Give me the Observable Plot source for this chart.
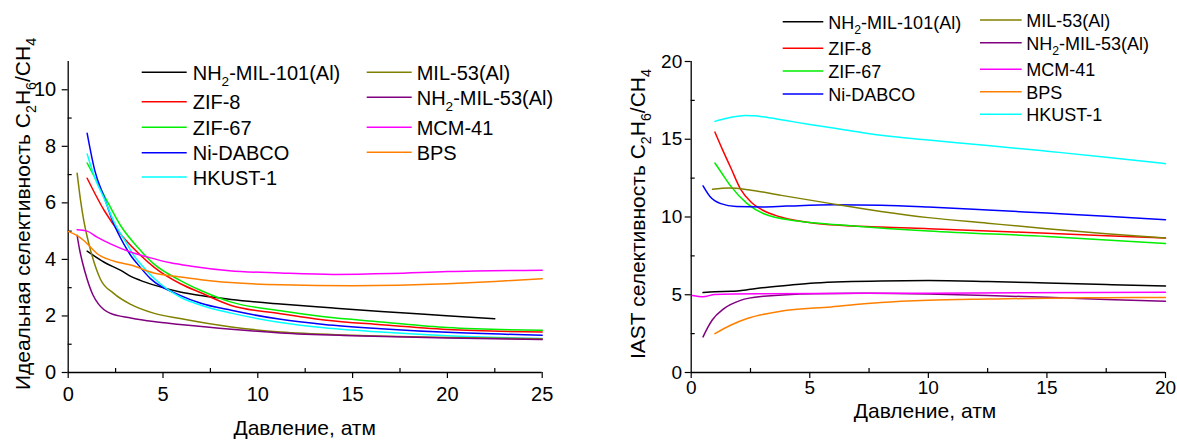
<!DOCTYPE html>
<html>
<head>
<meta charset="utf-8">
<script src="https://cdn.jsdelivr.net/npm/d3@7"></script>
<script src="https://cdn.jsdelivr.net/npm/@observablehq/plot@0.6"></script>
<style>
  html, body { margin: 0; padding: 0; background: #fff; }
  #wrap { position: relative; width: 1177px; height: 441px; overflow: hidden; font-family: "Liberation Sans", Arial, sans-serif; color: #000; }
  #wrap svg { position: absolute; top: 0; overflow: visible; }
</style>
</head>
<body>
<div id="wrap"></div>
<script>
// ---------- Data ----------
const seriesNames = ["NH2-MIL-101(Al)", "ZIF-8", "ZIF-67", "Ni-DABCO", "HKUST-1",
                     "MIL-53(Al)", "NH2-MIL-53(Al)", "MCM-41", "BPS"];
const seriesColors = ["#000000", "#ff0000", "#00ee00", "#0000ff", "#00ffff",
                      "#808000", "#800080", "#ff00ff", "#ff8000"];

// Left panel: ideal selectivity vs pressure (atm)
const L_NH2MIL101 = [[1,4.29],[1.9,3.9],[2.8,3.6],[3.3,3.4],[3.8,3.26],[4.5,3.1],[5.9,2.85],[7,2.72],[8.6,2.58],[11.2,2.42],[14,2.28],[16.5,2.16],[19,2.05],[21,1.96],[22.5,1.9]];
const L_ZIF8      = [[1,6.87],[1.9,5.73],[2.76,4.9],[3.64,4.26],[4.52,3.73],[5.92,3.14],[7,2.82],[8.56,2.38],[11.2,2.08],[13.5,1.86],[16.5,1.69],[20,1.52],[25,1.43]];
const L_ZIF67     = [[1,7.41],[1.9,6.26],[2.76,5.2],[3.7,4.4],[4.5,3.85],[5.9,3.26],[7,2.9],[8.6,2.49],[11.2,2.18],[13.5,1.97],[16.5,1.79],[20,1.59],[25,1.49]];
const L_NiDABCO   = [[1,8.46],[1.4,7.15],[1.9,6.2],[2.4,5.26],[2.93,4.55],[3.3,4.14],[3.64,3.85],[4.34,3.32],[5.9,2.73],[7,2.45],[8.6,2.2],[11.2,1.88],[13.5,1.7],[16.5,1.55],[20,1.42],[25,1.32]];
const L_HKUST1    = [[1,7.73],[1.4,6.9],[1.9,6.15],[2.4,5.35],[3.1,4.55],[3.5,4.1],[3.81,3.85],[4.5,3.35],[5.9,2.67],[7,2.38],[8.6,2.1],[11.2,1.77],[13.5,1.58],[16.5,1.43],[20,1.3],[25,1.2]];
const L_MIL53     = [[0.47,7.05],[0.65,6.1],[0.82,5.38],[1.0,4.8],[1.18,4.32],[1.7,3.3],[2.4,2.8],[3.3,2.41],[4.5,2.1],[5.9,1.91],[8.6,1.61],[11.2,1.43],[15,1.32],[20,1.24],[25,1.19]];
const L_NH2MIL53  = [[0.47,4.85],[0.6,4.35],[0.75,3.9],[1.0,3.3],[1.3,2.75],[1.6,2.42],[2.2,2.1],[3.3,1.93],[4.5,1.8],[5.9,1.7],[8.6,1.53],[11.2,1.4],[15,1.3],[20,1.22],[25,1.17]];
const L_MCM41     = [[0.47,5.05],[1.0,5.0],[1.5,4.8],[2.23,4.55],[3.29,4.26],[4.2,4.08],[5.4,3.88],[6.5,3.76],[8.5,3.6],[11.2,3.52],[14,3.47],[17,3.5],[20,3.57],[25,3.62]];
const L_BPS       = [[0,4.99],[0.5,4.83],[0.82,4.67],[1.53,4.2],[2.76,3.88],[3.29,3.8],[4.52,3.52],[5.92,3.38],[7,3.28],[8.56,3.18],[11.2,3.1],[15,3.07],[20,3.14],[22.5,3.22],[25,3.32]];

// Right panel: IAST selectivity vs pressure (atm)
const R_NH2MIL101 = [[0.5,5.14],[1,5.2],[1.7,5.22],[2.5,5.35],[3,5.45],[4,5.6],[5.2,5.76],[8,5.89],[10,5.91],[12.5,5.85],[15,5.76],[17.5,5.66],[20,5.57]];
const R_ZIF8      = [[1,15.46],[1.3,14.4],[1.66,13.2],[2.08,11.8],[2.5,11.0],[3,10.45],[3.77,10.0],[5.2,9.6],[8,9.35],[10,9.25],[15,8.95],[20,8.65]];
const R_ZIF67     = [[1,13.47],[1.3,12.8],[1.66,12.0],[2.36,10.86],[3.06,10.21],[4.5,9.74],[6.6,9.46],[10,9.1],[15,8.75],[20,8.29]];
const R_NiDABCO   = [[0.5,12.0],[0.8,11.3],[1.25,10.86],[1.9,10.68],[3,10.65],[4,10.7],[6,10.78],[8,10.75],[10,10.64],[12.5,10.45],[15,10.25],[17.5,10.05],[20,9.83]];
const R_HKUST1    = [[1,16.15],[1.5,16.35],[2.3,16.52],[3,16.45],[4,16.2],[5,15.95],[6.5,15.6],[8,15.25],[10,14.95],[12.5,14.6],[15,14.23],[17.5,13.85],[20,13.43]];
const R_MIL53     = [[0.9,11.78],[1.6,11.86],[2.4,11.76],[3.8,11.39],[5.9,10.86],[8,10.36],[10,9.96],[12.5,9.6],[15,9.25],[17.5,8.93],[20,8.65]];
const R_NH2MIL53  = [[0.5,2.29],[0.7,2.9],[0.88,3.36],[1.38,4.11],[2.08,4.64],[3.06,4.9],[5.2,5.07],[7.5,5.1],[10,5.05],[12.5,4.95],[15,4.84],[17.5,4.7],[20,4.58]];
const R_MCM41     = [[0.05,4.95],[0.5,4.87],[1,5.02],[3,5.06],[10,5.1],[20,5.16]];
const R_BPS       = [[1,2.5],[1.66,3.04],[2.36,3.47],[3.77,3.94],[5.9,4.22],[8,4.5],[10,4.64],[12.5,4.72],[15,4.78],[17.5,4.81],[20,4.82]];

// Tick values
const L_xTicks = [0, 5, 10, 15, 20, 25];
const L_xMinor = [2.5, 7.5, 12.5, 17.5, 22.5];
const L_yTicks = [0, 2, 4, 6, 8, 10];
const L_yMinor = [1, 3, 5, 7, 9];
const R_xTicks = [0, 5, 10, 15, 20];
const R_xMinor = [2.5, 7.5, 12.5, 17.5];
const R_yTicks = [0, 5, 10, 15, 20];
const R_yMinor = [2.5, 7.5, 12.5, 17.5];

// Text
const xTitle = "Давление, атм";
const L_yTitle = [["Идеальная селективность C", 0], ["2", 1], ["H", 0], ["6", 1], ["/CH", 0], ["4", 1]];
const R_yTitle = [["IAST селективность C", 0], ["2", 1], ["H", 0], ["6", 1], ["/CH", 0], ["4", 1]];

// ---------- Build tables ----------
function table(arrays) {
  const rows = [];
  arrays.forEach((arr, i) => arr.forEach(([x, y]) => rows.push({series: seriesNames[i], x, y})));
  return rows;
}
const leftData = table([L_NH2MIL101, L_ZIF8, L_ZIF67, L_NiDABCO, L_HKUST1, L_MIL53, L_NH2MIL53, L_MCM41, L_BPS]);
const rightData = table([R_NH2MIL101, R_ZIF8, R_ZIF67, R_NiDABCO, R_HKUST1, R_MIL53, R_NH2MIL53, R_MCM41, R_BPS]);

const FONT = "'Liberation Sans', Arial, sans-serif";

// split a label into [text, isSub] parts
function labelParts(name) {
  return name.startsWith("NH2") ? [["NH", 0], ["2", 1], [name.slice(3), 0]] : [[name, 0]];
}

function addRich(textSel, parts, fs, subShift) {
  let shifted = false;
  parts.forEach(([str, sub]) => {
    const ts = textSel.append("tspan").text(str);
    if (sub) {
      ts.attr("font-size", fs * 0.68);
      if (!shifted) { ts.attr("dy", subShift); shifted = true; }
    } else if (shifted) {
      ts.attr("dy", -subShift); shifted = false;
    }
  });
}

function makePanel(cfg) {
  const svg = Plot.plot({
    width: cfg.width, height: 441,
    marginLeft: cfg.ml, marginRight: cfg.mr, marginTop: 61, marginBottom: 69,
    x: {domain: cfg.xDomain},
    y: {domain: cfg.yDomain},
    color: {domain: seriesNames, range: seriesColors},
    style: {fontFamily: FONT, fontSize: cfg.tickFont + "px", color: "#000", background: "transparent", overflow: "visible"},
    marks: [
      Plot.axisX({ticks: cfg.xTicks, tickSize: cfg.tickSize, tickPadding: cfg.xPad, label: null, strokeWidth: 1.2}),
      Plot.axisX({ticks: cfg.xMinor, tickSize: -4, tickFormat: () => "", label: null, strokeWidth: 1.2}),
      Plot.axisY({ticks: cfg.yTicks, tickSize: cfg.tickSize, tickPadding: cfg.yPad, label: null, strokeWidth: 1.2}),
      Plot.axisY({ticks: cfg.yMinor, tickSize: -4, tickFormat: () => "", label: null, strokeWidth: 1.2}),
      Plot.ruleY([cfg.yDomain[0]], {stroke: "#000", strokeWidth: 1.3}),
      Plot.ruleX([cfg.xDomain[0]], {stroke: "#000", strokeWidth: 1.3}),
      Plot.line(cfg.data, {x: "x", y: "y", z: "series", stroke: "series", strokeWidth: 1.5, curve: "monotone-x"})
    ]
  });
  svg.style.left = cfg.left + "px";
  const s = d3.select(svg);
  // axis titles
  s.append("text")
    .attr("x", cfg.xTitleX).attr("y", cfg.xTitleY)
    .attr("text-anchor", "middle")
    .attr("font-family", FONT).attr("font-size", cfg.titleFont).attr("fill", "#000")
    .text(xTitle);
  const t = s.append("text")
    .attr("transform", `translate(${cfg.yTitleX},${cfg.yTitleY}) rotate(-90)`)
    .attr("text-anchor", "middle")
    .attr("font-family", FONT).attr("font-size", cfg.titleFont).attr("fill", "#000");
  addRich(t, cfg.yTitle, cfg.titleFont, cfg.titleFont * 0.3);
  // legend
  const g = s.append("g")
    .attr("font-family", FONT).attr("font-size", cfg.legend.fs)
    .attr("fill", "#000").attr("text-anchor", "start");
  cfg.legend.cols.forEach(col => {
    col.items.forEach(([idx, cy]) => {
      const x0 = col.x - cfg.left;
      g.append("line")
        .attr("x1", x0).attr("x2", x0 + col.w)
        .attr("y1", cy).attr("y2", cy)
        .attr("stroke", seriesColors[idx]).attr("stroke-width", 1.6);
      const tx = g.append("text")
        .attr("text-anchor", "start")
        .attr("x", x0 + col.w + col.gap)
        .attr("y", cy + cfg.legend.fs * 0.38);
      addRich(tx, labelParts(seriesNames[idx]), cfg.legend.fs, cfg.legend.fs * 0.3);
    });
  });
  return svg;
}

const wrap = document.getElementById("wrap");
wrap.appendChild(makePanel({
  left: 0, width: 580, ml: 67.7, mr: 38.3,
  xDomain: [0, 25], yDomain: [0, 11],
  xTicks: L_xTicks, xMinor: L_xMinor, yTicks: L_yTicks, yMinor: L_yMinor,
  tickFont: 20, tickSize: 6, xPad: 8, yPad: 6,
  titleFont: 21, xTitleX: 304.7, xTitleY: 435, yTitleX: 30, yTitleY: 214,
  yTitle: L_yTitle, data: leftData,
  legend: {fs: 20, cols: [
    {x: 141.7, w: 45, gap: 6, items: [[0, 72.3], [1, 101.7], [2, 127.3], [3, 152.7], [4, 177]]},
    {x: 366.7, w: 45, gap: 5, items: [[5, 72.3], [6, 97.3], [7, 127.3], [8, 152.3]]}
  ]}
}));
wrap.appendChild(makePanel({
  left: 580, width: 597, ml: 110.7, mr: 12,
  xDomain: [0, 20], yDomain: [0, 20],
  xTicks: R_xTicks, xMinor: R_xMinor, yTicks: R_yTicks, yMinor: R_yMinor,
  tickFont: 19, tickSize: 6, xPad: 2, yPad: 3,
  titleFont: 21, xTitleX: 345, xTitleY: 418, yTitleX: 65, yTitleY: 214,
  yTitle: R_yTitle, data: rightData,
  legend: {fs: 18, cols: [
    {x: 782.7, w: 40.6, gap: 5, items: [[0, 21.7], [1, 48.3], [2, 71], [3, 94]]},
    {x: 980, w: 41.7, gap: 4.5, items: [[5, 20], [6, 42.7], [7, 69.3], [8, 91.7], [4, 114.3]]}
  ]}
}));
</script>
</body>
</html>
